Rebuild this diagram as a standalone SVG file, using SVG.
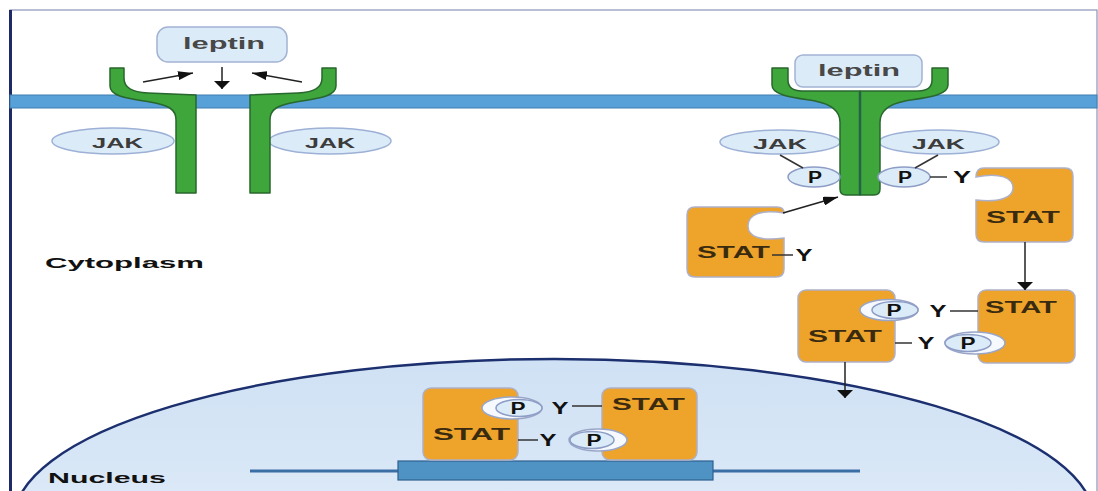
<svg xmlns="http://www.w3.org/2000/svg" xmlns:xlink="http://www.w3.org/1999/xlink" width="1098" height="491" viewBox="0 0 1098 491">
  <style>
    .membrane { fill: #58a0d8; stroke: #3f7fb2; stroke-width: 1; }
    .rec { fill: #3ea63a; stroke: #28672e; stroke-width: 1.5; stroke-linejoin: round; }
    .jak { fill: #dcebf8; stroke: #9db1d6; stroke-width: 1.5; }
    .lep { fill: #dcebf8; stroke: #a3b3d3; stroke-width: 1.5; }
    .stat { fill: #eea32a; stroke: #aeb0c8; stroke-width: 1.5; }
    .pe { fill: #dcebf8; stroke: #8d9dc6; stroke-width: 1.5; }
    .bite { fill: #f6f9fd; stroke: #9aa6c8; stroke-width: 1.5; }
    .t { font-family: "Liberation Sans", Arial, sans-serif; font-weight: bold; }
    .tj { font-size: 15px; fill: #3c3c3c; }
    .tl { font-size: 17px; fill: #484848; }
    .ts { font-size: 17px; fill: #3a2b10; }
    .tp { font-size: 16px; fill: #111; text-anchor: middle; }
    .ty { font-size: 16px; fill: #111; text-anchor: middle; }
    .tc { font-size: 15px; fill: #111; }
    .ln { stroke: #333; stroke-width: 1.5; fill: none; }
    .arv { stroke: #222; stroke-width: 1.5; fill: none; marker-end: url(#headV); }
    .ard { stroke: #222; stroke-width: 1.5; fill: none; marker-end: url(#headD); }
  </style>
  <defs>
    <marker id="headV" viewBox="0 0 8 16" refX="8" refY="8" markerWidth="8" markerHeight="16" orient="auto" markerUnits="userSpaceOnUse">
      <path d="M0,0 L8,8 L0,16 Z" fill="#111"/>
    </marker>
    <marker id="headD" viewBox="0 0 15 9" refX="15" refY="4.5" markerWidth="15" markerHeight="9" orient="auto" markerUnits="userSpaceOnUse">
      <path d="M0,0 L15,4.5 L0,9 Z" fill="#111"/>
    </marker>
    <linearGradient id="nucFill" x1="0" y1="0" x2="0" y2="1">
      <stop offset="0" stop-color="#cfe1f4"/>
      <stop offset="1" stop-color="#eaf2fb"/>
    </linearGradient>
    <!-- one half of a receptor chain; the other half is its mirror -->
    <path id="recHalfA" class="rec" d="M110,68 H124 V78 C124,88 132,92 148,93 L196,95 V193 H176 V120 C176,109 168,105 150,102 C125,98 110,96 110,86 Z"/>
    <path id="recHalfB" class="rec" d="M772,68 H788 V80 C788,88 793,91 802,91 H860 V195 H846 C842,195 840,193 840,189 V122 C840,110 830,104 815,101 C790,97 772,95 772,85 Z"/>
  </defs>

  <rect x="0" y="0" width="1098" height="491" fill="#ffffff"/>

  <!-- cell frame -->
  <rect x="10" y="10" width="1087" height="490" fill="none" stroke="#8b93b8" stroke-width="1.2"/>
  <line x1="10.5" y1="10" x2="10.5" y2="491" stroke="#1d2a66" stroke-width="3"/>

  <!-- plasma membrane -->
  <rect class="membrane" x="10" y="95" width="1087" height="13"/>

  <!-- nucleus with DNA -->
  <g id="nucleus">
    <ellipse cx="554" cy="520" rx="540" ry="161" fill="url(#nucFill)" stroke="#1c2f6e" stroke-width="2.5"/>
    <line x1="250" y1="471" x2="860" y2="471" stroke="#3b6ea5" stroke-width="3"/>
    <rect x="398" y="461" width="315" height="19" fill="#4f93c4" stroke="#2d5f8f" stroke-width="1.2"/>
  </g>

  <text class="t tc" x="45" y="268" textLength="159" lengthAdjust="spacingAndGlyphs">Cytoplasm</text>
  <text class="t tc" x="48" y="483" textLength="118" lengthAdjust="spacingAndGlyphs">Nucleus</text>

  <!-- inactive receptor (left) -->
  <g id="jak-l1">
    <ellipse class="jak" cx="113" cy="141" rx="61" ry="13"/>
    <text class="t tj" x="92" y="148" textLength="51" lengthAdjust="spacingAndGlyphs">JAK</text>
  </g>
  <g id="jak-l2">
    <ellipse class="jak" cx="330" cy="141" rx="61" ry="13"/>
    <text class="t tj" x="305" y="148" textLength="50" lengthAdjust="spacingAndGlyphs">JAK</text>
  </g>
  <g id="receptor-left">
    <use xlink:href="#recHalfA"/>
    <use xlink:href="#recHalfA" transform="matrix(-1 0 0 1 446 0)"/>
  </g>
  <g id="leptin-free">
    <rect class="lep" x="157" y="27" width="130" height="35" rx="11"/>
    <text class="t tl" x="183" y="49" textLength="82" lengthAdjust="spacingAndGlyphs">leptin</text>
  </g>

  <!-- activated receptor (right) -->
  <g id="jak-r1">
    <ellipse class="jak" cx="780" cy="142" rx="60" ry="12"/>
    <text class="t tj" x="753" y="149" textLength="54" lengthAdjust="spacingAndGlyphs">JAK</text>
  </g>
  <g id="jak-r2">
    <ellipse class="jak" cx="939" cy="142" rx="60" ry="12"/>
    <text class="t tj" x="912" y="149" textLength="53" lengthAdjust="spacingAndGlyphs">JAK</text>
  </g>
  <g id="receptor-right">
    <use xlink:href="#recHalfB"/>
    <use xlink:href="#recHalfB" transform="matrix(-1 0 0 1 1720 0)"/>
    <line x1="860" y1="92" x2="860" y2="195" stroke="#24624a" stroke-width="2.5"/>
  </g>
  <g id="leptin-bound">
    <rect class="lep" x="795" y="55" width="127" height="32" rx="8"/>
    <text class="t tl" x="818" y="76" textLength="82" lengthAdjust="spacingAndGlyphs">leptin</text>
  </g>
  <g id="p-jak1">
    <ellipse class="pe" cx="814" cy="177" rx="26" ry="10"/>
    <text class="t tp" x="815" y="183" textLength="14" lengthAdjust="spacingAndGlyphs">P</text>
  </g>
  <g id="p-jak2">
    <ellipse class="pe" cx="904" cy="177" rx="26" ry="10"/>
    <text class="t tp" x="905" y="183" textLength="14" lengthAdjust="spacingAndGlyphs">P</text>
  </g>
  <text class="t ty" x="962" y="183" textLength="18" lengthAdjust="spacingAndGlyphs">Y</text>

  <!-- free STAT monomers -->
  <g id="stat-a">
    <path class="stat" d="M695,207 H777 Q784,207 784,213 C760,209 748,215 748,226 C748,237 760,241 784,238 V269 Q784,277 776,277 H695 Q687,277 687,269 V215 Q687,207 695,207 Z"/>
    <text class="t ts" x="697" y="258" textLength="73" lengthAdjust="spacingAndGlyphs">STAT</text>
    <line class="ln" x1="772" y1="255" x2="793" y2="255"/>
    <text class="t ty" x="804" y="261" textLength="17" lengthAdjust="spacingAndGlyphs">Y</text>
  </g>
  <g id="stat-b">
    <path class="stat" d="M984,168 H1065 Q1073,168 1073,176 V234 Q1073,242 1065,242 H984 Q976,242 976,234 V200 C1000,203 1013,197 1013,188 C1013,178 1000,172 976,177 Q976,168 984,168 Z"/>
    <text class="t ts" x="986" y="223" textLength="74" lengthAdjust="spacingAndGlyphs">STAT</text>
  </g>

  <!-- cytoplasmic STAT dimer -->
  <g id="dimer-cyto">
    <rect class="stat" x="798" y="290" width="97" height="72" rx="8"/>
    <rect class="stat" x="978" y="290" width="97" height="73" rx="8"/>
    <text class="t ts" x="808" y="342" textLength="74" lengthAdjust="spacingAndGlyphs">STAT</text>
    <text class="t ts" x="985" y="313" textLength="72" lengthAdjust="spacingAndGlyphs">STAT</text>
    <ellipse class="bite" cx="889" cy="310" rx="29" ry="10.5"/>
    <ellipse class="pe" cx="895" cy="310" rx="23" ry="8.5"/>
    <text class="t tp" x="894" y="316" textLength="15" lengthAdjust="spacingAndGlyphs">P</text>
    <text class="t ty" x="938" y="317" textLength="17" lengthAdjust="spacingAndGlyphs">Y</text>
    <line class="ln" x1="950" y1="311" x2="978" y2="311"/>
    <line class="ln" x1="895" y1="343" x2="912" y2="343"/>
    <text class="t ty" x="926" y="349" textLength="17" lengthAdjust="spacingAndGlyphs">Y</text>
    <ellipse class="bite" cx="975" cy="343" rx="30" ry="11"/>
    <ellipse class="pe" cx="968" cy="343" rx="23" ry="8.5"/>
    <text class="t tp" x="968" y="349" textLength="15" lengthAdjust="spacingAndGlyphs">P</text>
  </g>

  <!-- nuclear STAT dimer bound to DNA -->
  <g id="dimer-nuc">
    <rect class="stat" x="423" y="388" width="95" height="72" rx="8"/>
    <rect class="stat" x="602" y="388" width="95" height="72" rx="8"/>
    <text class="t ts" x="433" y="440" textLength="77" lengthAdjust="spacingAndGlyphs">STAT</text>
    <text class="t ts" x="612" y="410" textLength="73" lengthAdjust="spacingAndGlyphs">STAT</text>
    <ellipse class="bite" cx="512" cy="408" rx="30" ry="11"/>
    <ellipse class="pe" cx="519" cy="408" rx="23" ry="8.5"/>
    <text class="t tp" x="518" y="414" textLength="15" lengthAdjust="spacingAndGlyphs">P</text>
    <text class="t ty" x="560" y="414" textLength="17" lengthAdjust="spacingAndGlyphs">Y</text>
    <line class="ln" x1="572" y1="406" x2="602" y2="406"/>
    <line class="ln" x1="518" y1="440" x2="538" y2="440"/>
    <text class="t ty" x="548" y="446" textLength="17" lengthAdjust="spacingAndGlyphs">Y</text>
    <ellipse class="bite" cx="598" cy="440" rx="29" ry="11"/>
    <ellipse class="pe" cx="592" cy="440" rx="22" ry="8.5"/>
    <text class="t tp" x="594" y="446" textLength="15" lengthAdjust="spacingAndGlyphs">P</text>
  </g>

  <!-- connectors -->
  <g id="connectors">
    <line class="ard" x1="143" y1="82" x2="193" y2="73"/>
    <line class="ard" x1="302" y1="82" x2="252" y2="73"/>
    <line class="arv" x1="222" y1="67" x2="222" y2="89"/>
    <line class="ln" x1="780" y1="155" x2="803" y2="168"/>
    <line class="ln" x1="938" y1="155" x2="915" y2="168"/>
    <line class="ln" x1="930" y1="177" x2="947" y2="177"/>
    <line class="ard" x1="783" y1="213" x2="838" y2="197"/>
    <line class="arv" x1="1025" y1="242" x2="1025" y2="290"/>
    <line class="arv" x1="845" y1="362" x2="845" y2="398"/>
  </g>
</svg>
